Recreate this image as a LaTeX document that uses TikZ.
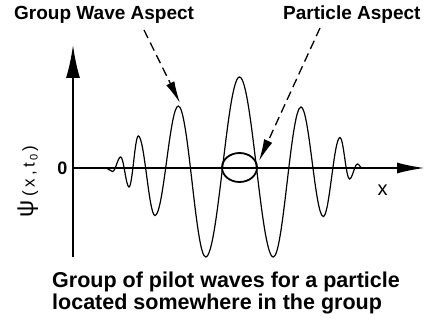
\documentclass[tikz,border=0pt]{standalone}
\usepackage{fontspec}
\setmainfont{Liberation Sans}
\usetikzlibrary{arrows.meta,shapes.geometric}
\tikzset{
  axisline/.style={line width=2pt},
  wave/.style={line width=1.2pt},
  pointer/.style={line width=1.3pt, dash pattern=on 9pt off 5pt, -{Latex[length=22pt,width=9pt]}},
  toplbl/.style={inner sep=0pt, anchor=base west, font=\fontsize{19}{19}\selectfont\bfseries},
  caplbl/.style={inner sep=0pt, anchor=base west, font=\fontsize{21.5}{22}\selectfont\bfseries},
}
\begin{document}
\begin{tikzpicture}[x=1pt,y=-1pt]
\useasboundingbox[fill=white] (0,0) rectangle (425,320);
% labels
\node[toplbl] (gw) at (14,20) {Group Wave Aspect};
\node[toplbl] (pa) at (283,20) {Particle Aspect};
\node[caplbl] (cap1) at (52,287) {Group of pilot waves for a particle};
\node[caplbl] (cap2) at (52,309) {located somewhere in the group};
\node[inner sep=0pt, font=\fontsize{18}{18}\selectfont\bfseries] (zero) at (62.5,168.5) {0};
\node[inner sep=0pt, font=\fontsize{20}{20}\selectfont] (xlbl) at (382.5,190) {x};
\node[inner sep=0pt, rotate=90, anchor=base west] (psi) at (33,218)
  {\fontsize{24}{24}\selectfont ψ\kern4pt\raisebox{-1.5pt}{\fontsize{17}{17}\selectfont (\kern3.5pt x\kern3.5pt,\kern3.5pt t\kern2pt\raisebox{-3pt}{\fontsize{11}{11}\selectfont 0}\kern3pt)}};
% axes
\coordinate (ybot) at (73,257);
\coordinate (ytip) at (73,45);
\coordinate (orig) at (73,168);
\coordinate (xtip) at (425,168);
\draw[axisline, -{Latex[length=33pt,width=14pt]}] (ybot) -- (ytip);
\draw[axisline, -{Latex[length=28pt,width=11pt]}] (orig) -- (xtip);
% wave packet
\draw[wave] (106,168)
  .. controls (108.4,168) and (110.1,171.5) .. (112.5,171.5)
  .. controls (115.5,171.5) and (117.7,157) .. (120.7,157)
  .. controls (123.7,157) and (126.0,187) .. (129,187)
  .. controls (132.4,187) and (134.9,136) .. (138.3,136)
  .. controls (144.4,136) and (148.9,215.5) .. (155,215.5)
  .. controls (163.5,215.5) and (169.8,106) .. (178.3,106)
  .. controls (188.3,106) and (195.7,257) .. (205.7,257)
  .. controls (218,257) and (227.2,77) .. (239.5,77)
  .. controls (251.8,77) and (261,257) .. (273.3,257)
  .. controls (283.4,257) and (290.9,107) .. (301,107)
  .. controls (309.1,107) and (315.2,216.5) .. (323.3,216.5)
  .. controls (329.4,216.5) and (333.9,137.5) .. (340,137.5)
  .. controls (343.5,137.5) and (346,179) .. (349.5,179)
  .. controls (352.4,179) and (354.6,164) .. (357.5,164)
  .. controls (359.1,164) and (360.4,168) .. (362,168);
% particle ellipse
\node[draw, line width=1.8pt, ellipse, minimum width=35pt, minimum height=29pt, inner sep=0pt] (part) at (239.5,167.5) {};
% pointers
\coordinate (gwstart) at (144,30);
\coordinate (gwend) at (180,103);
\coordinate (pastart) at (320,28);
\coordinate (paend) at (259,161);
\draw[pointer] (gwstart) -- (gwend);
\draw[pointer] (pastart) -- (paend);
\end{tikzpicture}
\end{document}
